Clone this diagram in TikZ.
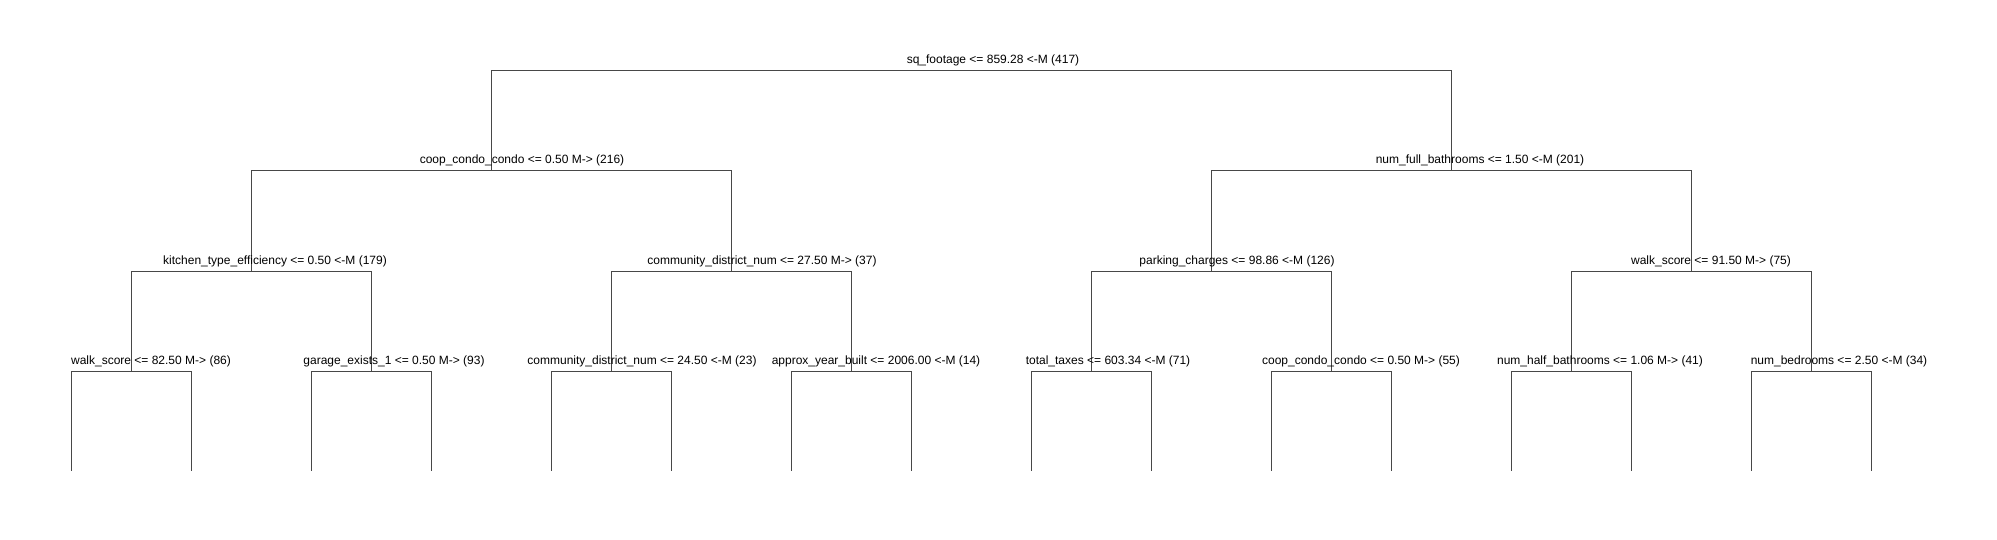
\documentclass[tikz,border=0pt]{standalone}
\usepackage{fontspec}
\setmainfont{Liberation Sans}
\begin{document}
\begin{tikzpicture}[x=1pt,y=-1pt,
  edge/.style={draw=black!72,line width=1pt},
  lbl/.style={anchor=base,inner sep=0pt,font=\fontsize{12}{14}\selectfont}]
\fill[white] (0,0) rectangle (1997,540);
\useasboundingbox (0,0) rectangle (1997,540);
% tree nodes
\coordinate (r) at (971,70.3);
\coordinate (a) at (491.5,170.3);
\coordinate (b) at (1451.5,170.3);
\coordinate (a1) at (251.5,271);
\coordinate (a2) at (731.5,271);
\coordinate (b1) at (1211.5,271);
\coordinate (b2) at (1691.5,271);
\foreach \i/\x in {1/131.5,2/371.5,3/611.5,4/851.5,5/1091.5,6/1331.5,7/1571.5,8/1811.5}
  \coordinate (c\i) at (\x,371.3);
\foreach \k in {1,...,16}
  \coordinate (l\k) at ({71.5+120*(\k-1)},470.5);
% connectors
\draw[edge] (a) -- (a |- r) -- (b |- r) -- (b);
\draw[edge] (a1) -- (a1 |- a) -- (a2 |- a) -- (a2);
\draw[edge] (b1) -- (b1 |- b) -- (b2 |- b) -- (b2);
\draw[edge] (c1) -- (c1 |- a1) -- (c2 |- a1) -- (c2);
\draw[edge] (c3) -- (c3 |- a2) -- (c4 |- a2) -- (c4);
\draw[edge] (c5) -- (c5 |- b1) -- (c6 |- b1) -- (c6);
\draw[edge] (c7) -- (c7 |- b2) -- (c8 |- b2) -- (c8);
\draw[edge] (l1) -- (l1 |- c1) -- (l2 |- c1) -- (l2);
\draw[edge] (l3) -- (l3 |- c2) -- (l4 |- c2) -- (l4);
\draw[edge] (l5) -- (l5 |- c3) -- (l6 |- c3) -- (l6);
\draw[edge] (l7) -- (l7 |- c4) -- (l8 |- c4) -- (l8);
\draw[edge] (l9) -- (l9 |- c5) -- (l10 |- c5) -- (l10);
\draw[edge] (l11) -- (l11 |- c6) -- (l12 |- c6) -- (l12);
\draw[edge] (l13) -- (l13 |- c7) -- (l14 |- c7) -- (l14);
\draw[edge] (l15) -- (l15 |- c8) -- (l16 |- c8) -- (l16);
% labels
\node[lbl] (tr) at (993,63.8) {sq\_footage <= 859.28 <-M (417)};
\node[lbl] (ta) at (522,163.8) {coop\_condo\_condo <= 0.50 M-> (216)};
\node[lbl] (tb) at (1480,163.8) {num\_full\_bathrooms <= 1.50 <-M (201)};
\node[lbl] (ta1) at (275,264.5) {kitchen\_type\_efficiency <= 0.50 <-M (179)};
\node[lbl] (ta2) at (762,264.5) {community\_district\_num <= 27.50 M-> (37)};
\node[lbl] (tb1) at (1237,264.5) {parking\_charges <= 98.86 <-M (126)};
\node[lbl] (tb2) at (1711,264.5) {walk\_score <= 91.50 M-> (75)};
\node[lbl] (tc1) at (151,364.8) {walk\_score <= 82.50 M-> (86)};
\node[lbl] (tc2) at (394,364.8) {garage\_exists\_1 <= 0.50 M-> (93)};
\node[lbl] (tc3) at (642,364.8) {community\_district\_num <= 24.50 <-M (23)};
\node[lbl] (tc4) at (876,364.8) {approx\_year\_built <= 2006.00 <-M (14)};
\node[lbl] (tc5) at (1108,364.8) {total\_taxes <= 603.34 <-M (71)};
\node[lbl] (tc6) at (1361,364.8) {coop\_condo\_condo <= 0.50 M-> (55)};
\node[lbl] (tc7) at (1600,364.8) {num\_half\_bathrooms <= 1.06 M-> (41)};
\node[lbl] (tc8) at (1839,364.8) {num\_bedrooms <= 2.50 <-M (34)};
\end{tikzpicture}
\end{document}
